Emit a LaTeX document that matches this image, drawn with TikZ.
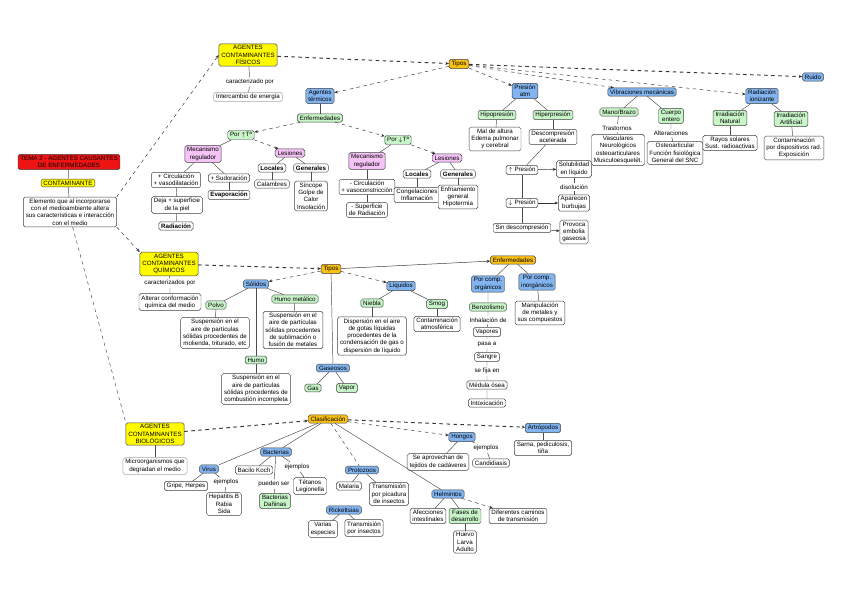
\documentclass[tikz,border=0pt]{standalone}
\usepackage{fontspec}
\setmainfont{Liberation Sans}
\usetikzlibrary{arrows.meta}
\definecolor{amar}{RGB}{255,250,0}
\definecolor{rojo}{RGB}{238,20,20}
\definecolor{naranja}{RGB}{250,192,20}
\definecolor{azul}{RGB}{130,180,240}
\definecolor{verde}{RGB}{200,245,200}
\definecolor{rosa}{RGB}{245,195,245}

\begin{document}
\begin{tikzpicture}[x=0.03cm,y=-0.03cm,
  every node/.style={font=\fontsize{5.3}{6.2}\selectfont,align=center,inner xsep=2pt,inner ysep=1.5pt},
  caja/.style={draw=black!75,fill=white,rounded corners=1.5pt},
  amarillo/.style={caja,fill=amar},
  rojizo/.style={caja,fill=rojo},
  naranjo/.style={caja,fill=naranja},
  celeste/.style={caja,fill=azul},
  verdoso/.style={caja,fill=verde},
  rosado/.style={caja,fill=rosa},
  tenue/.style={caja,draw=black!35},
  negrita/.style={caja,font=\fontsize{5.3}{6.2}\selectfont\bfseries},
  lin/.style={draw=black!70},
  flec/.style={draw=black!80,dashed,-{Stealth[length=3pt,width=2.5pt]}},
  flecs/.style={draw=black!80,-{Stealth[length=3pt,width=2.5pt]}},
  gruesa/.style={flec,thick}]
\useasboundingbox (0,0) rectangle (848,599);
\fill [white] (0,0) rectangle (848,599);

\node[rojizo] (tema) at (69,162) {TEMA 2 - AGENTES CAUSANTES\\DE ENFERMEDADES};
\node[amarillo] (contam) at (68,183) {CONTAMINANTE};
\node[caja] (defin) at (70,212) {Elemento que al incorporarse\\con el medioambiente altera\\sus características e interacción\\con el medio};

\node[amarillo] (fisicos) at (248,55) {AGENTES\\CONTAMINANTES\\FÍSICOS};
\node (carfis) at (250,82) {caracterizado por};
\node[tenue] (energia) at (248,97) {Intercambio de energía};
\node[naranjo] (tiposF) at (459,64) {Tipos};
\node[celeste] (ruido) at (813,77) {Ruido};
\node[celeste] (termicos) at (320,96) {Agentes\\térmicos};
\node[verdoso] (enfT) at (320,118) {Enfermedades};
\node[verdoso] (porA) at (241,135) {Por $\uparrow$Tª};
\node[rosado] (mecA) at (203,154) {Mecanismo\\regulador};
\node[rosado] (lesA) at (290,153) {Lesiones};
\node[caja] (circA) at (176,180) {+ Circulación\\+ vasodilatación};
\node[caja] (sudA) at (229,178) {+ Sudoración};
\node[caja] (supA) at (177,205) {Deja + superficie\\de la piel};
\node[negrita] (evapA) at (229,195) {Evaporación};
\node[negrita] (radA) at (176,226) {Radiación};
\node[negrita] (locA) at (272,168) {Locales};
\node[negrita] (genA) at (311,168) {Generales};
\node[caja] (calA) at (272,184) {Calambres};
\node[caja] (sinA) at (311,196) {Síncope\\Golpe de\\Calor\\Insolación};
\node[verdoso] (porB) at (398,140) {Por $\downarrow$Tª};
\node[rosado] (mecB) at (367,161) {Mecanismo\\regulador};
\node[rosado] (lesB) at (447,158) {Lesiones};
\node[caja] (circB) at (367,187) {- Circulación\\+ vasoconstricción};
\node[caja] (supB) at (367,210) {- Superficie\\de Radiación};
\node[negrita] (locB) at (417,174) {Locales};
\node[negrita] (genB) at (458,174) {Generales};
\node[caja] (conB) at (417,195) {Congelaciones\\Inflamación};
\node[caja] (enfrB) at (458,197) {Enfriamiento\\general\\Hipotermia};

\node[celeste] (presion) at (525,91) {Presión\\atm};
\node[verdoso] (hipo) at (497,115) {Hipopresión};
\node[verdoso] (hiper) at (553,115) {Hiperpresión};
\node[caja] (malalt) at (495,139) {Mal de altura\\Edema pulmonar\\y cerebral};
\node[caja] (descomp) at (553,137) {Descompresión\\acelerada};
\node[caja] (subeP) at (522,170) {$\uparrow$ Presión};
\node[caja] (bajaP) at (522,203) {$\downarrow$ Presión};
\node[caja] (sindes) at (522,228) {Sin descompresión};
\node[caja] (solub) at (574,169) {Solubilidad\\en líquido};
\node (disol) at (574,187) {disolución};
\node[caja] (burb) at (574,203) {Aparecen\\burbujas};
\node[caja] (embol) at (574,232) {Provoca\\embolia\\gaseosa};

\node[celeste] (vibra) at (642,92) {Vibraciones mecánicas};
\node[verdoso] (mano) at (619,112) {Mano/Brazo};
\node[verdoso] (cuerpo) at (671,116) {Cuerpo\\entero};
\node (trast) at (617,128) {Trastornos};
\node (alter) at (671,133) {Alteraciones};
\node[caja] (vasc) at (618,150) {Vasculares\\Neurológicos\\osteoarticulares\\Musculoesquelét.};
\node[caja] (osteo) at (675,153) {Osteoarticular\\Función fisiológica\\General del SNC};

\node[celeste] (radio) at (762,96) {Radiación\\ionizante};
\node[verdoso] (irrN) at (730,118) {Irradiación\\Natural};
\node[verdoso] (irrA) at (791,119) {Irradiación\\Artificial};
\node[caja] (rayos) at (730,143) {Rayos solares\\Sust. radioactivas};
\node[caja] (contd) at (794,148) {Contaminación\\por dispositivos rad.\\Exposición};

\node[amarillo] (quimicos) at (169,264) {AGENTES\\CONTAMINANTES\\QUÍMICOS};
\node (carq) at (170,283) {caracterizados por};
\node[caja] (alterar) at (170,302) {Alterar conformación\\química del medio};
\node[naranjo] (tiposQ) at (331,269) {Tipos};
\node[celeste] (solidos) at (256,284) {Sólidos};
\node[verdoso] (polvo) at (216,305) {Polvo};
\node[verdoso] (humomet) at (295,299) {Humo metálico};
\node[caja] (polvoD) at (215,333) {Suspensión en el\\aire de partículas\\sólidas procedentes de\\molienda, triturado, etc};
\node[caja] (humometD) at (293,330) {Suspensión en el\\aire de partículas\\sólidas procedentes\\de sublimación o\\fusión de metales};
\node[verdoso] (humo) at (256,360) {Humo};
\node[caja] (humoD) at (256,389) {Suspensión en el\\aire de partículas\\sólidas procedentes de\\combustión incompleta};
\node[celeste] (liquidos) at (401,286) {Líquidos};
\node[verdoso] (niebla) at (372,303) {Niebla};
\node[verdoso] (smog) at (437,304) {Smog};
\node[caja] (nieblaD) at (372,336) {Dispersión en el aire\\de gotas líquidas\\procedentes de la\\condensación de gas o\\dispersión de líquido};
\node[caja] (smogD) at (437,324) {Contaminación\\atmosférica};
\node[celeste] (gaseosos) at (333,368) {Gaseosos};
\node[verdoso] (gas) at (313,388) {Gas};
\node[verdoso] (vapor) at (347,388) {Vapor};

\node[naranjo] (enfQ) at (513,260) {Enfermedades};
\node[celeste] (organ) at (488,284) {Por comp.\\orgánicos};
\node[celeste] (inorg) at (537,282) {Por comp.\\inorgánicos};
\node[verdoso] (benzo) at (488,307) {Benzolismo};
\node (inhal) at (488,320) {Inhalación de};
\node[caja] (vapores) at (487,332) {Vapores};
\node (pasa) at (487,344) {pasa a};
\node[caja] (sangre) at (487,357) {Sangre};
\node (fija) at (487,371) {se fija en};
\node[caja] (medula) at (487,385) {Médula ósea};
\node[caja] (intox) at (487,403) {Intoxicación};
\node[caja] (manip) at (540,313) {Manipulación\\de metales y\\sus compuestos};

\node[amarillo] (biolog) at (155,434) {AGENTES\\CONTAMINANTES\\BIOLÓGICOS};
\node[tenue] (micro) at (155,466) {Microorganismos que\\degradan el medio};
\node[naranjo] (clasif) at (328,419) {Clasificación};
\node[celeste] (bacter) at (276,452) {Bacterias};
\node[celeste] (virus) at (209,469) {Virus};
\node[caja] (gripe) at (186,486) {Gripe, Herpes};
\node (ejv) at (226,482) {ejemplos};
\node[caja] (hepat) at (224,504) {Hepatitis B\\Rabia\\Sida};
\node[caja] (bacilo) at (254,470) {Bacilo Koch};
\node (ejb) at (297,467) {ejemplos};
\node[caja] (tetanos) at (310,486) {Tétanos\\Legionella};
\node (pueden) at (274,484) {pueden ser};
\node[verdoso] (danin) at (275,501) {Bacterias\\Dañinas};
\node[celeste] (protoz) at (362,470) {Protozoos};
\node[caja] (malaria) at (349,486) {Malaria};
\node[caja] (transP) at (389,494) {Transmisión\\por picadura\\de insectos};
\node[celeste] (ricket) at (344,510) {Rickettsias};
\node[caja] (varias) at (323,529) {Varias\\especies};
\node[caja] (transR) at (364,528) {Transmisión\\por insectos};
\node[celeste] (hongos) at (462,437) {Hongos};
\node (ejh) at (486,448) {ejemplos};
\node[caja] (aprov) at (438,462) {Se aprovechan de\\tejidos de cadáveres};
\node[caja] (candi) at (491,463) {Candidiasis};
\node[celeste] (artro) at (543,428) {Artrópodos};
\node[caja] (sarna) at (543,448) {Sarna, pediculosis,\\tiña};
\node[celeste] (helmin) at (448,494) {Helmintos};
\node[caja] (afecc) at (428,516) {Afecciones\\intestinales};
\node[verdoso] (fases) at (465,516) {Fases de\\desarrollo};
\node[caja] (huevo) at (465,542) {Huevo\\Larva\\Adulto};
\node[caja] (difer) at (518,516) {Diferentes caminos\\de transmisión};

\draw [lin] (tema) -- (contam);
\draw [lin] (contam) -- (defin);
\draw [flec] (defin.north east) -- (fisicos.west);
\draw [flec] (defin.south east) -- (quimicos.north west);
\draw [lin,dashed] (defin.-80) -- (biolog.north west);

\draw [gruesa] (fisicos) -- (tiposF);
\draw [lin] (fisicos) -- (carfis) -- (energia);
\draw [flec] (tiposF) -- (termicos);
\draw [flec] (tiposF) -- (presion);
\draw [flec] (tiposF) -- (vibra);
\draw [flec] (tiposF) -- (radio);
\draw [gruesa] (tiposF) -- (ruido);
\draw [lin] (termicos) -- (enfT);
\draw [flec] (enfT) -- (porA);
\draw [flec] (enfT) -- (porB);
\draw [lin] (porA) -- (mecA);
\draw [flec] (porA) -- (lesA);
\draw [lin] (mecA) -- (circA);
\draw [lin] (mecA) -- (sudA);
\draw [lin] (circA) -- (supA) -- (radA);
\draw [lin] (sudA) -- (evapA);
\draw [lin] (lesA) -- (locA);
\draw [lin] (lesA) -- (genA);
\draw [lin] (locA) -- (calA);
\draw [lin] (genA) -- (sinA);
\draw [lin] (porB) -- (mecB);
\draw [flec] (porB) -- (lesB);
\draw [lin] (mecB) -- (circB) -- (supB);
\draw [lin] (lesB) -- (locB);
\draw [lin] (lesB) -- (genB);
\draw [lin] (locB) -- (conB);
\draw [lin] (genB) -- (enfrB);

\draw [lin] (presion) -- (hipo);
\draw [lin] (presion) -- (hiper);
\draw [lin] (hipo) -- (malalt);
\draw [lin] (hiper) -- (descomp);
\draw [lin] (descomp) -- (subeP);
\draw [flecs] (subeP) -- (solub);
\draw [lin] (subeP) -- (bajaP) -- (sindes);
\draw [flecs] (bajaP) -- (burb);
\draw [flecs] (sindes) -- (embol);
\draw [lin] (solub) -- (disol) -- (burb);

\draw [lin] (vibra) -- (mano);
\draw [lin] (vibra) -- (cuerpo);
\draw [lin] (mano) -- (trast) -- (vasc);
\draw [lin] (cuerpo) -- (alter) -- (osteo);
\draw [lin] (radio) -- (irrN);
\draw [lin] (radio) -- (irrA);
\draw [lin] (irrN) -- (rayos);
\draw [lin] (irrA) -- (contd);

\draw [gruesa] (quimicos) -- (tiposQ);
\draw [lin] (quimicos) -- (carq) -- (alterar);
\draw [flec] (tiposQ) -- (solidos);
\draw [flec] (tiposQ) -- (liquidos);
\draw [lin] (tiposQ) -- (gaseosos);
\draw [flecs] (tiposQ) -- (enfQ);
\draw [lin] (solidos) -- (polvo);
\draw [lin] (solidos) -- (humomet);
\draw [lin] (solidos) -- (humo);
\draw [lin] (polvo) -- (polvoD);
\draw [lin] (humomet) -- (humometD);
\draw [lin] (humo) -- (humoD);
\draw [lin] (liquidos) -- (niebla);
\draw [lin] (liquidos) -- (smog);
\draw [lin] (niebla) -- (nieblaD);
\draw [lin] (smog) -- (smogD);
\draw [lin] (gaseosos) -- (gas);
\draw [lin] (gaseosos) -- (vapor);
\draw [lin] (enfQ) -- (organ);
\draw [lin] (enfQ) -- (inorg);
\draw [lin] (organ) -- (benzo) -- (inhal) -- (vapores) -- (pasa) -- (sangre) -- (fija) -- (medula) -- (intox);
\draw [lin] (inorg) -- (manip);

\draw [gruesa] (biolog) -- (clasif);
\draw [lin] (biolog) -- (micro);
\draw [lin] (clasif) -- (bacter);
\draw [lin] (clasif) -- (virus);
\draw [lin,dashed] (clasif) -- (protoz);
\draw [flec] (clasif) -- (hongos);
\draw [gruesa] (clasif) -- (artro);
\draw [lin] (clasif) -- (helmin);
\draw [lin] (virus) -- (gripe);
\draw [lin] (virus) -- (ejv) -- (hepat);
\draw [lin] (bacter) -- (bacilo);
\draw [lin] (bacter) -- (ejb) -- (tetanos);
\draw [lin] (bacter) -- (pueden) -- (danin);
\draw [lin] (protoz) -- (malaria);
\draw [lin] (protoz) -- (transP);
\draw [lin] (ricket) -- (varias);
\draw [lin] (ricket) -- (transR);
\draw [lin] (hongos) -- (aprov);
\draw [lin] (hongos) -- (ejh) -- (candi);
\draw [lin] (artro) -- (sarna);
\draw [lin] (helmin) -- (afecc);
\draw [lin] (helmin) -- (fases);
\draw [flec] (helmin) -- (difer);
\draw [lin] (fases) -- (huevo);
\end{tikzpicture}
\end{document}
